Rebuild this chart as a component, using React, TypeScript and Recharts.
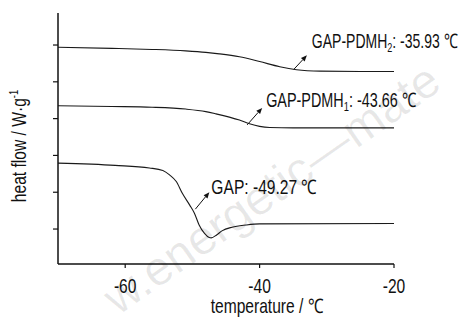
import React from 'react';
import { LineChart, Line, XAxis, YAxis, ReferenceDot } from 'recharts';

// DSC curves, temperature in °C, heat flow in arbitrary (offset) units
const xTicks = [-60, -40, -20];
const yTicks = [1, 2, 3, 4, 5, 6];

const pdmh2Temps = [-70, -62, -56, -51, -48, -46, -43, -40, -37, -34.5, -31, -25, -20];
const pdmh2Flow = [5.94, 5.91, 5.88, 5.84, 5.8, 5.76, 5.68, 5.55, 5.41, 5.33, 5.29, 5.28, 5.28];

const pdmh1Temps = [-70, -62, -56, -51, -48, -46.5, -44.5, -43, -41.5, -40, -38.5, -35, -20];
const pdmh1Flow = [4.35, 4.33, 4.31, 4.26, 4.19, 4.13, 4.04, 3.96, 3.86, 3.79, 3.76, 3.75, 3.75];

const gapTemps = [-70, -61.5, -56.4, -54.4, -53.4, -52.4, -51.5, -50.4, -49.7, -49, -48.2, -47.5, -47.2, -46.4, -45.6, -44.1, -42, -40, -20];
const gapFlow = [2.79, 2.73, 2.66, 2.59, 2.47, 2.29, 1.97, 1.65, 1.43, 1.11, 0.88, 0.77, 0.76, 0.84, 0.95, 1.05, 1.11, 1.14, 1.15];

// arrow tails (on the curves) and their labels
const calloutTemps = [-34.9, -41.85, -49.56];
const calloutFlow = [5.34, 3.83, 1.54];
const calloutNames = ['GAP-PDMH', 'GAP-PDMH', 'GAP'];
const calloutSubs = ['2', '1', ''];
const calloutTg = [': -35.93 ℃', ': -43.66 ℃', ': -49.27 ℃'];

const zip = (xs: number[], ys: number[]) => xs.map((x, i) => ({ x, y: ys[i] }));

const FONT = 'Arial, "Liberation Sans", sans-serif';
const SQUEEZE = 0.78;
const INK = '#111';

// pixel offsets of arrow head and text from the arrow tail
const arrowOffsets = [
  { dx: 13, dy: -14, tx: 18, ty: -21, sq: 0.7 },
  { dx: 15, dy: -17, tx: 19, ty: -18, sq: 0.72 },
  { dx: 14, dy: -17, tx: 16, ty: -15, sq: 0.78 },
];

function NarrowText({ x, y, anchor = 'start', rotate = 0, size = 20, squeeze = SQUEEZE, children }: any) {
  return (
    <text
      transform={`translate(${x},${y}) rotate(${rotate}) scale(${squeeze},1)`}
      textAnchor={anchor}
      fontSize={size}
      fontFamily={FONT}
      fill={INK}
    >
      {children}
    </text>
  );
}

function Callout({ cx, cy, idx }: any) {
  const o = arrowOffsets[idx];
  const hx = cx + o.dx;
  const hy = cy + o.dy;
  const len = Math.hypot(o.dx, o.dy);
  const ux = o.dx / len;
  const uy = o.dy / len;
  const bx = hx - ux * 6;
  const by = hy - uy * 6;
  const pts = `${hx},${hy} ${bx - uy * 2.5},${by + ux * 2.5} ${bx + uy * 2.5},${by - ux * 2.5}`;
  return (
    <g>
      <line x1={cx} y1={cy} x2={bx} y2={by} stroke={INK} strokeWidth={1} />
      <polygon points={pts} fill={INK} />
      <NarrowText x={cx + o.tx} y={cy + o.ty} squeeze={o.sq}>
        {calloutNames[idx]}
        {calloutSubs[idx] ? (
          <>
            <tspan fontSize={13} dy={4}>{calloutSubs[idx]}</tspan>
            <tspan dy={-4}>{calloutTg[idx]}</tspan>
          </>
        ) : (
          <tspan>{calloutTg[idx]}</tspan>
        )}
      </NarrowText>
    </g>
  );
}

function XTick({ x, y, payload }: any) {
  return <NarrowText x={x} y={y + 23} anchor="middle">{payload.value}</NarrowText>;
}

function NoLabel() {
  return <g />;
}

export default function App() {
  const curves = [zip(pdmh2Temps, pdmh2Flow), zip(pdmh1Temps, pdmh1Flow), zip(gapTemps, gapFlow)];
  return (
    <div style={{ position: 'absolute', left: 0, top: 0, width: 469, height: 322, background: '#fff' }}>
      <LineChart width={469} height={322} margin={{ top: 13, right: 75, bottom: 0, left: 0 }}>
        <XAxis
          type="number"
          dataKey="x"
          domain={[-70, -20]}
          ticks={xTicks}
          allowDataOverflow
          height={58}
          tickSize={4}
          tick={<XTick />}
          axisLine={{ stroke: INK, strokeWidth: 1.5 }}
          tickLine={{ stroke: INK, strokeWidth: 1.2 }}
        />
        <YAxis
          type="number"
          dataKey="y"
          domain={[0.05, 6.87]}
          ticks={yTicks}
          allowDataOverflow
          width={58}
          tickSize={5}
          tick={<NoLabel />}
          axisLine={{ stroke: INK, strokeWidth: 1.5 }}
          tickLine={{ stroke: INK, strokeWidth: 1.2 }}
        />
        {curves.map((d, i) => (
          <Line
            key={i}
            data={d}
            dataKey="y"
            type="monotone"
            stroke="#1a1a1a"
            strokeWidth={1.1}
            dot={false}
            isAnimationActive={false}
          />
        ))}
        {calloutTemps.map((t, i) => (
          <ReferenceDot
            key={i}
            x={t}
            y={calloutFlow[i]}
            r={0}
            ifOverflow="visible"
            shape={(p: any) => <Callout cx={p.cx} cy={p.cy} idx={i} />}
          />
        ))}
      </LineChart>
      <svg width={469} height={322} style={{ position: 'absolute', left: 0, top: 0, pointerEvents: 'none' }}>
        <NarrowText x={26} y={146} anchor="middle" rotate={-90}>
          heat flow / W·g<tspan fontSize={12} dy={-8}>-1</tspan>
        </NarrowText>
        <NarrowText x={267} y={313} anchor="middle">temperature / ℃</NarrowText>
        <text
          transform="translate(118,316) rotate(-35)"
          fontSize={48}
          fontFamily={FONT}
          fill="#000"
          fillOpacity={0.09}
        >
          w.energetic—mate
        </text>
      </svg>
    </div>
  );
}
